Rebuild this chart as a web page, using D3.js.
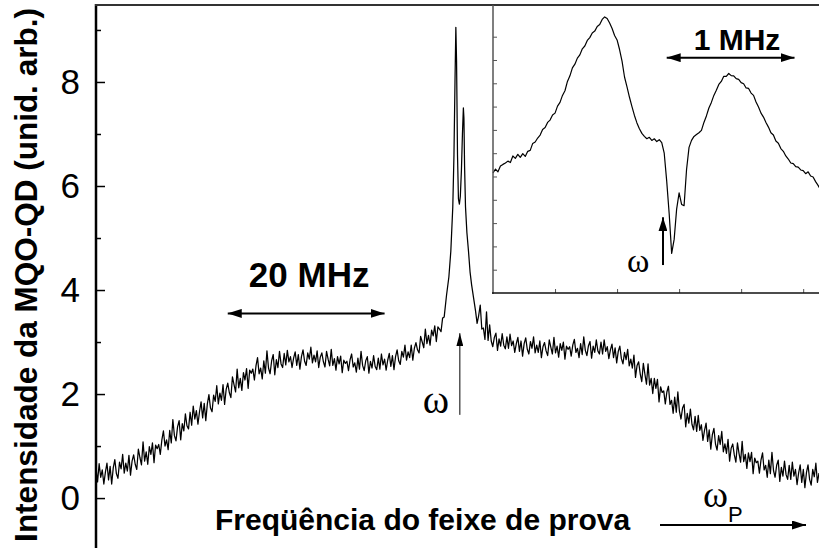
<!DOCTYPE html>
<html>
<head>
<meta charset="utf-8">
<script src="https://cdn.jsdelivr.net/npm/d3@7"></script>
<style>
  html, body { margin: 0; padding: 0; background: #fff; }
  svg { display: block; }
</style>
</head>
<body>
<svg id="chart" width="819" height="548"></svg>
<script>
// ---- Main spectrum: probe detuning (MHz) vs. QD-MQO intensity (arb. units) ----
const leftStart = -46.4;      // first detuning of the left wing, MHz
const rightStart = 2.0;       // first detuning of the right wing, MHz
const gridStep = 0.2;         // sampling step of both wings, MHz

const leftWing = [
  0.57,0.31,0.66,0.40,0.54,0.27,0.50,0.67,0.35,0.61,0.27,0.58,0.74,0.47,0.38,0.69,0.56,0.84,0.48,0.67,
  0.52,0.82,0.44,0.71,0.83,0.65,0.55,0.94,0.78,0.64,1.08,0.71,0.89,0.65,0.99,0.84,1.06,0.68,1.02,0.95,
  1.03,0.84,1.12,1.29,1.00,1.12,0.93,1.30,1.06,1.51,1.20,1.10,1.37,1.49,1.12,1.43,1.29,1.62,1.39,1.33,
  1.65,1.40,1.77,1.52,1.68,1.42,1.66,1.85,1.54,1.82,1.49,1.81,1.99,1.73,1.66,1.98,1.86,2.16,1.81,2.02,
  1.88,2.18,1.80,2.09,2.21,2.03,1.93,2.33,2.18,2.04,2.48,2.12,2.30,2.07,2.41,2.27,2.49,2.11,2.46,2.40,
  2.48,2.27,2.54,2.70,2.39,2.50,2.29,2.64,2.40,2.83,2.50,2.39,2.64,2.76,2.37,2.66,2.51,2.82,2.58,2.51,
  2.78,2.56,2.84,2.62,2.72,2.51,2.69,2.81,2.55,2.76,2.48,2.72,2.85,2.63,2.55,2.79,2.67,2.90,2.60,2.75,
  2.62,2.83,2.51,2.71,2.79,2.62,2.52,2.82,2.67,2.54,2.86,2.55,2.68,2.46,2.72,2.58,2.73,2.41,2.65,2.59,
  2.63,2.45,2.66,2.77,2.52,2.60,2.42,2.69,2.48,2.82,2.55,2.45,2.64,2.72,2.40,2.63,2.50,2.74,2.53,2.47,
  2.69,2.48,2.77,2.56,2.67,2.46,2.65,2.78,2.53,2.74,2.47,2.72,2.85,2.64,2.57,2.82,2.71,2.94,2.65,2.81,
  2.70,2.94,2.65,2.88,2.99,2.85,2.79,3.11,3.00,2.89,3.25,2.97,3.13,2.94,3.23,3.12,3.31,3.01,3.29,3.25,
  3.20,3.46,3.48
];

// Narrow doublet around the pump frequency
const peakFreq = [-1.7,-1.4,-1.15,-0.9,-0.75,-0.62,-0.51,-0.42,-0.3,-0.18,-0.06,0.06,0.2,0.33,0.45,0.52,0.6,0.72,0.9,1.1,1.3,1.5,1.75];
const peakVal  = [3.9,4.25,4.75,5.6,6.6,8.0,9.05,8.4,6.6,5.75,5.65,5.8,6.3,7.0,7.5,7.3,6.4,5.6,5.1,4.75,4.35,4.1,3.85];

const rightWing = [
  3.60,3.36,3.51,3.71,3.25,3.27,3.05,3.58,3.03,3.33,3.02,2.91,3.09,3.17,2.84,3.06,2.92,3.16,2.94,2.87,
  3.10,2.88,3.15,2.93,3.02,2.80,2.97,3.09,2.82,3.02,2.73,2.97,3.08,2.86,2.77,3.01,2.88,3.10,2.79,2.94,
  2.80,3.02,2.70,2.91,2.99,2.83,2.74,3.04,2.90,2.77,3.09,2.79,2.92,2.71,2.97,2.84,3.00,2.67,2.92,2.86,
  2.91,2.73,2.94,3.05,2.80,2.88,2.70,2.97,2.76,3.10,2.84,2.74,2.93,3.01,2.69,2.92,2.80,3.04,2.83,2.77,
  3.00,2.77,3.04,2.82,2.91,2.68,2.85,2.96,2.70,2.89,2.60,2.82,2.92,2.68,2.58,2.80,2.66,2.86,2.54,2.67,
  2.50,2.75,2.32,2.55,2.62,2.39,2.24,2.59,2.38,2.19,2.58,2.17,2.30,2.01,2.30,2.11,2.28,1.85,2.14,2.03,
  2.06,1.81,2.04,2.15,1.80,1.88,1.63,1.94,1.65,2.04,1.67,1.52,1.73,1.80,1.37,1.63,1.44,1.71,1.42,1.31,
  1.57,1.28,1.59,1.30,1.41,1.11,1.30,1.44,1.09,1.31,0.94,1.22,1.34,1.04,0.92,1.20,1.03,1.28,0.89,1.04,
  0.86,1.13,0.71,0.96,1.04,0.83,0.69,1.06,0.86,0.69,1.09,0.70,0.84,0.57,0.87,0.70,0.88,0.47,0.77,0.68,
  0.71,0.48,0.73,0.87,0.54,0.63,0.40,0.73,0.47,0.88,0.53,0.40,0.63,0.73,0.32,0.59,0.42,0.71,0.45,0.36,
  0.63,0.36,0.69,0.42,0.55,0.26,0.48,0.64,0.30,0.55,0.20,0.49,0.64,0.36,0.25,0.55,0.41,0.67,0.30,0.48
];

const yTicks = [0, 2, 4, 6, 8];
const yMinorTicks = [1, 3, 5, 7, 9];

// Annotations of the main panel (MHz / intensity units)
const pumpFreq = 0;
const mainSpan = [-29.6, -9.6];     // 20 MHz scale bar

// ---- Inset: zoom on the doublet, detuning in MHz ----
const insetStart = -1.5;
const insetStep = 0.02;
const insetVal = [
  5.15,5.32,5.20,5.45,5.52,5.58,5.66,5.60,5.88,5.78,
  5.95,5.82,5.98,5.86,6.08,6.12,6.42,6.48,6.65,6.78,
  7.02,7.10,7.32,7.42,7.64,7.72,8.02,8.18,8.48,8.68,
  9.08,9.32,9.66,9.82,10.08,10.22,10.48,10.60,10.84,10.96,
  11.16,11.24,11.44,11.52,11.74,11.85,11.78,11.59,11.35,11.05,
  10.86,10.45,9.95,9.27,8.85,8.40,8.00,7.62,7.30,7.05,
  6.85,6.72,6.62,6.68,6.55,6.62,6.50,6.58,
  6.45,6.00,4.80,3.40,1.70,2.30,3.60,4.30,3.80,3.75,5.30,6.25,6.55,
  6.72,6.80,6.88,6.98,7.32,7.60,7.94,8.18,8.48,8.70,
  8.95,9.08,9.30,9.30,9.42,9.33,9.32,9.20,9.17,9.03,
  8.98,8.80,8.78,8.58,8.48,8.20,7.98,7.72,7.55,7.32,
  7.12,6.88,6.78,6.52,6.43,6.20,6.08,5.88,5.75,5.58,
  5.55,5.42,5.40,5.28,5.25,5.12,5.20,5.02,4.98,4.78,4.62,4.42
];
const insetYTicks = [1,2,3,4,5,6,7,8,9,10,11];
const insetXTicks = [-1, -0.5, 0, 0.5, 1];
const insetPump = -0.13;
const insetSpan = [-0.1, 0.93];     // 1 MHz scale bar

// ---------------------------------------------------------------
const svg = d3.select("#chart");
const sans = "'Liberation Sans', Arial, sans-serif";
const serif = "'Liberation Serif', 'Times New Roman', serif";

const x = d3.scaleLinear().domain([-46.4, 45.8]).range([96, 819]);
const y = d3.scaleLinear().domain([-0.96, 9.48]).range([548, 5]);

const mainData = [
  ...leftWing.map((v, i) => ({ f: leftStart + i * gridStep, v })),
  ...peakFreq.map((f, i) => ({ f, v: peakVal[i] })),
  ...rightWing.map((v, i) => ({ f: rightStart + i * gridStep, v }))
];

const defs = svg.append("defs");
function addHead(id, w, l) {
  defs.append("marker")
    .attr("id", id)
    .attr("markerUnits", "userSpaceOnUse")
    .attr("viewBox", `0 ${-w / 2} ${l} ${w}`)
    .attr("refX", l).attr("refY", 0)
    .attr("markerWidth", l).attr("markerHeight", w)
    .attr("orient", "auto-start-reverse")
    .append("path")
    .attr("d", `M0,${-w / 2}L${l},0L0,${w / 2}Z`)
    .attr("fill", "#000");
}
addHead("headBig", 9, 14);
addHead("headThin", 7, 13);

// main trace
svg.append("path")
  .datum(mainData)
  .attr("fill", "none")
  .attr("stroke", "#000")
  .attr("stroke-width", 1.25)
  .attr("stroke-linejoin", "round")
  .attr("d", d3.line().x(d => x(d.f)).y(d => y(d.v)));

// left axis with inward ticks
const yAxis = svg.append("g").attr("transform", "translate(96,0)");
yAxis.call(d3.axisLeft(y).tickValues(yTicks).tickSize(-9).tickPadding(16).tickFormat(d3.format("d")));
yAxis.select(".domain").remove();
yAxis.selectAll(".tick line").attr("stroke", "#000").attr("stroke-width", 1.5);
yAxis.selectAll(".tick text")
  .attr("font-family", sans)
  .attr("font-size", 35)
  .attr("fill", "#000");

const yMinor = svg.append("g").attr("transform", "translate(96,0)");
yMinor.call(d3.axisLeft(y).tickValues(yMinorTicks).tickSize(-5).tickFormat(""));
yMinor.select(".domain").remove();
yMinor.selectAll(".tick line").attr("stroke", "#000").attr("stroke-width", 1.5);

svg.append("line")
  .attr("x1", 96).attr("x2", 96).attr("y1", 4).attr("y2", 548)
  .attr("stroke", "#000").attr("stroke-width", 2.5);
svg.append("line")
  .attr("x1", 95).attr("x2", 819).attr("y1", 5).attr("y2", 5)
  .attr("stroke", "#333").attr("stroke-width", 2);

// y axis title
svg.append("text")
  .attr("transform", "translate(37,275) rotate(-90)")
  .attr("text-anchor", "middle")
  .attr("font-family", sans)
  .attr("font-weight", "bold")
  .attr("font-size", 31.5)
  .attr("fill", "#000")
  .text("Intensidade da MQO-QD (unid. arb.)");

// x axis title and direction arrow
svg.append("text")
  .attr("x", 215).attr("y", 530)
  .attr("font-family", sans)
  .attr("font-weight", "bold")
  .attr("font-size", 30)
  .attr("fill", "#000")
  .text("Freqüência do feixe de prova");

svg.append("line")
  .attr("x1", 660).attr("x2", 806).attr("y1", 525).attr("y2", 525)
  .attr("stroke", "#000").attr("stroke-width", 2)
  .attr("marker-end", "url(#headBig)");
const wp = svg.append("text")
  .attr("x", 703).attr("y", 507)
  .attr("font-family", serif)
  .attr("font-size", 38)
  .attr("fill", "#000");
wp.append("tspan").text("ω");
wp.append("tspan")
  .attr("font-family", sans)
  .attr("font-size", 22)
  .attr("dy", 15)
  .text("P");

// 20 MHz scale bar
svg.append("line")
  .attr("x1", x(mainSpan[0])).attr("x2", x(mainSpan[1]))
  .attr("y1", y(3.55)).attr("y2", y(3.55))
  .attr("stroke", "#000").attr("stroke-width", 2)
  .attr("marker-start", "url(#headBig)")
  .attr("marker-end", "url(#headBig)");
svg.append("text")
  .attr("x", x((mainSpan[0] + mainSpan[1]) / 2) + 3).attr("y", 287)
  .attr("text-anchor", "middle")
  .attr("font-family", sans)
  .attr("font-weight", "bold")
  .attr("font-size", 35)
  .attr("fill", "#000")
  .text("20 MHz");

// pump frequency marker
svg.append("line")
  .attr("x1", x(pumpFreq)).attr("x2", x(pumpFreq))
  .attr("y1", y(1.6)).attr("y2", y(3.17))
  .attr("stroke", "#000").attr("stroke-width", 1)
  .attr("marker-end", "url(#headThin)");
svg.append("text")
  .attr("x", x(pumpFreq) - 37).attr("y", 413)
  .attr("font-family", serif)
  .attr("font-size", 40)
  .attr("fill", "#000")
  .text("ω");

// ---- inset ----
const xi = d3.scaleLinear().domain([-1.5, 1.2]).range([493, 828]);
const yi = d3.scaleLinear().domain([0, 12.36]).range([293, 5]);

svg.append("rect")
  .attr("x", 493).attr("y", 6).attr("width", 340).attr("height", 287)
  .attr("fill", "#fff");

svg.append("path")
  .datum(insetVal.map((v, i) => ({ f: insetStart + i * insetStep, v })))
  .attr("fill", "none")
  .attr("stroke", "#000")
  .attr("stroke-width", 1.2)
  .attr("stroke-linejoin", "round")
  .attr("d", d3.line().x(d => xi(d.f)).y(d => yi(d.v)));

const iy = svg.append("g").attr("transform", "translate(493,0)");
iy.call(d3.axisLeft(yi).tickValues(insetYTicks).tickSize(-4).tickFormat(""));
iy.select(".domain").remove();
iy.selectAll(".tick line").attr("stroke", "#555").attr("stroke-width", 1);

const ix = svg.append("g").attr("transform", "translate(0,293)");
ix.call(d3.axisBottom(xi).tickValues(insetXTicks).tickSize(-4).tickFormat(""));
ix.select(".domain").remove();
ix.selectAll(".tick line").attr("stroke", "#555").attr("stroke-width", 1);

svg.append("line")
  .attr("x1", 493).attr("x2", 493).attr("y1", 5).attr("y2", 294)
  .attr("stroke", "#555").attr("stroke-width", 1.5);
svg.append("line")
  .attr("x1", 492).attr("x2", 819).attr("y1", 293).attr("y2", 293)
  .attr("stroke", "#111").attr("stroke-width", 1.5);

// inset pump marker
svg.append("line")
  .attr("x1", xi(insetPump)).attr("x2", xi(insetPump))
  .attr("y1", yi(1.2)).attr("y2", yi(3.25))
  .attr("stroke", "#000").attr("stroke-width", 2)
  .attr("marker-end", "url(#headBig)");
svg.append("text")
  .attr("x", xi(insetPump) - 36).attr("y", 272)
  .attr("font-family", serif)
  .attr("font-size", 34)
  .attr("fill", "#000")
  .text("ω");

// 1 MHz scale bar
svg.append("line")
  .attr("x1", xi(insetSpan[0])).attr("x2", xi(insetSpan[1]))
  .attr("y1", yi(10.1)).attr("y2", yi(10.1))
  .attr("stroke", "#000").attr("stroke-width", 2)
  .attr("marker-start", "url(#headBig)")
  .attr("marker-end", "url(#headBig)");
svg.append("text")
  .attr("x", 737).attr("y", 50)
  .attr("text-anchor", "middle")
  .attr("font-family", sans)
  .attr("font-weight", "bold")
  .attr("font-size", 30)
  .attr("fill", "#000")
  .text("1 MHz");
</script>
</body>
</html>
